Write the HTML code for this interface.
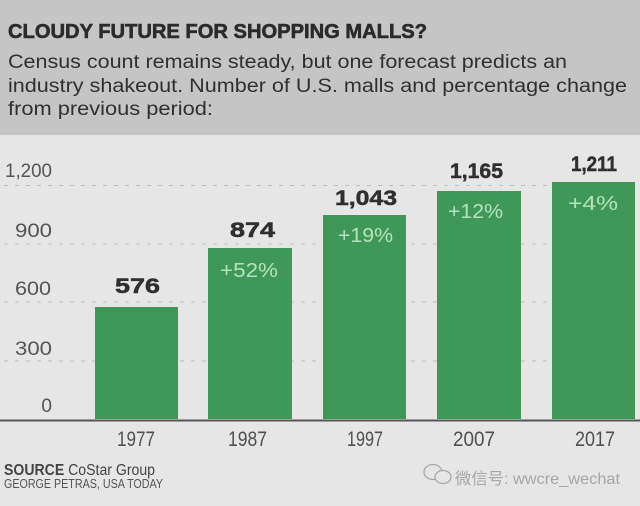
<!DOCTYPE html>
<html>
<head>
<meta charset="utf-8">
<style>
  html,body{margin:0;padding:0;background:#e6e6e6;}
  svg{display:block;}
  text{font-family:"Liberation Sans","Noto Sans CJK SC",sans-serif;}
</style>
</head>
<body>
<svg width="640" height="506" viewBox="0 0 640 506" xmlns="http://www.w3.org/2000/svg">
  <rect x="0" y="0" width="640" height="506" fill="#e6e6e6"/>
  <rect x="0" y="0" width="640" height="135" fill="#c5c5c5"/>

  <!-- Title -->
  <text x="8" y="38" font-size="20" font-weight="bold" fill="#2b2b2b" stroke="#2b2b2b" stroke-width="0.6" textLength="419" lengthAdjust="spacingAndGlyphs">CLOUDY FUTURE FOR SHOPPING MALLS?</text>
  <text x="8" y="68" font-size="19" fill="#303030" textLength="559" lengthAdjust="spacingAndGlyphs">Census count remains steady, but one forecast predicts an</text>
  <text x="8" y="92" font-size="19" fill="#303030" textLength="619" lengthAdjust="spacingAndGlyphs">industry shakeout. Number of U.S. malls and percentage change</text>
  <text x="8" y="115" font-size="19" fill="#303030" textLength="205" lengthAdjust="spacingAndGlyphs">from previous period:</text>

  <!-- gridlines -->
  <g stroke="#bdbdbd" stroke-width="1" stroke-dasharray="4 7">
    <line x1="4" y1="185.5" x2="640" y2="185.5"/>
    <line x1="4" y1="244" x2="640" y2="244"/>
    <line x1="4" y1="302" x2="640" y2="302"/>
    <line x1="4" y1="361" x2="640" y2="361"/>
  </g>

  <!-- y labels -->
  <g font-size="19" fill="#555" text-anchor="end">
    <text x="52" y="177" textLength="47" lengthAdjust="spacingAndGlyphs">1,200</text>
    <text x="52" y="237" textLength="37" lengthAdjust="spacingAndGlyphs">900</text>
    <text x="51" y="295" textLength="36" lengthAdjust="spacingAndGlyphs">600</text>
    <text x="52" y="355" textLength="37" lengthAdjust="spacingAndGlyphs">300</text>
    <text x="52" y="412">0</text>
  </g>

  <!-- bars -->
  <g fill="#3e9958">
    <rect x="95" y="307" width="83" height="112"/>
    <rect x="208" y="248" width="84" height="171"/>
    <rect x="323" y="215" width="83" height="204"/>
    <rect x="437" y="191" width="84" height="228"/>
    <rect x="552" y="182" width="83" height="237"/>
  </g>

  <!-- axis -->
  <line x1="0" y1="420.5" x2="640" y2="420.5" stroke="#555" stroke-width="2"/>

  <!-- value labels -->
  <g font-size="21" font-weight="bold" fill="#2f2f2f" stroke="#2f2f2f" stroke-width="0.5" text-anchor="middle">
    <text x="137.5" y="293" textLength="45" lengthAdjust="spacingAndGlyphs">576</text>
    <text x="252.5" y="237" textLength="45" lengthAdjust="spacingAndGlyphs">874</text>
    <text x="366" y="205" textLength="62" lengthAdjust="spacingAndGlyphs">1,043</text>
    <text x="476.5" y="178" textLength="53" lengthAdjust="spacingAndGlyphs">1,165</text>
    <text x="594" y="171" textLength="46" lengthAdjust="spacingAndGlyphs">1,211</text>
  </g>

  <!-- pct labels -->
  <g font-size="20" fill="#b6e0bf" text-anchor="middle">
    <text x="249" y="277" textLength="58" lengthAdjust="spacingAndGlyphs">+52%</text>
    <text x="365.5" y="242" textLength="55" lengthAdjust="spacingAndGlyphs">+19%</text>
    <text x="475.5" y="218" textLength="55" lengthAdjust="spacingAndGlyphs">+12%</text>
    <text x="593" y="210" textLength="50" lengthAdjust="spacingAndGlyphs">+4%</text>
  </g>

  <!-- years -->
  <g font-size="21" fill="#505050" text-anchor="middle">
    <text x="136" y="446" textLength="38" lengthAdjust="spacingAndGlyphs">1977</text>
    <text x="247.5" y="446" textLength="39" lengthAdjust="spacingAndGlyphs">1987</text>
    <text x="365" y="446" textLength="36" lengthAdjust="spacingAndGlyphs">1997</text>
    <text x="474" y="446" textLength="42" lengthAdjust="spacingAndGlyphs">2007</text>
    <text x="595" y="446" textLength="40" lengthAdjust="spacingAndGlyphs">2017</text>
  </g>

  <!-- source -->
  <text x="4" y="475" font-size="15.5" fill="#444" textLength="151" lengthAdjust="spacingAndGlyphs"><tspan font-weight="bold">SOURCE</tspan> CoStar Group</text>
  <text x="4" y="488" font-size="12.5" fill="#555" textLength="159" lengthAdjust="spacingAndGlyphs">GEORGE PETRAS, USA TODAY</text>

  <!-- watermark -->
  <g fill="none" stroke="#a8a8a8" stroke-width="1.3">
    <ellipse cx="433" cy="472" rx="9" ry="7.5"/>
    <ellipse cx="443" cy="477" rx="8" ry="6.5" fill="#e6e6e6"/>
  </g>
  <text x="455" y="484" font-size="16" fill="#a6a6a6" textLength="165" lengthAdjust="spacingAndGlyphs">微信号: wwcre_wechat</text>
</svg>
</body>
</html>
